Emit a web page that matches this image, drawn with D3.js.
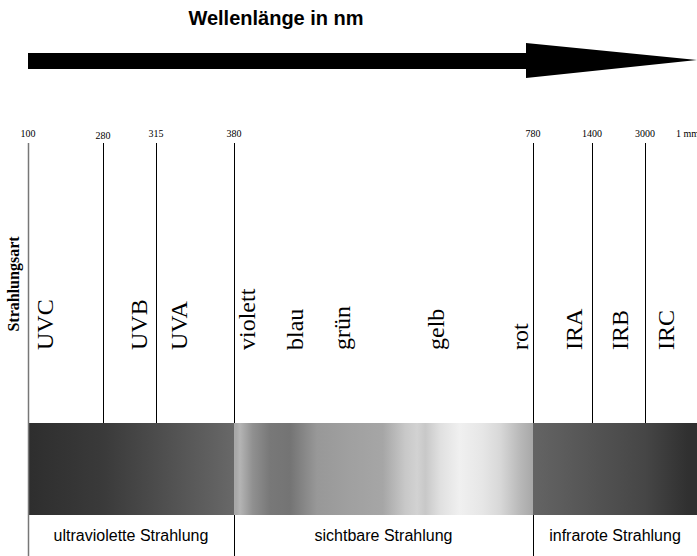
<!DOCTYPE html>
<meta charset="utf-8">
<script src="https://d3js.org/d3.v7.min.js"></script>
<style>
  body { margin: 0; background: #fff; }
</style>
<div id="chart"></div>
<script>
// wavelength boundaries (nm) and their tick labels
const bounds = [100, 280, 315, 380, 780, 1400, 3000, 1e6];
const boundLabels = ["100", "280", "315", "380", "780", "1400", "3000", "1 mm"];

// radiation types, placed at a wavelength (nm)
const kinds = ["UVC", "UVB", "UVA", "violett", "blau", "grün", "gelb", "rot", "IRA", "IRB", "IRC"];
const kindPos = [160, 309, 341, 408, 472, 535, 661, 773, 1295, 2487, 675000];

// main regions
const regions = ["ultraviolette Strahlung", "sichtbare Strahlung", "infrarote Strahlung"];
const regionFrom = [100, 380, 780];
const regionTo = [380, 780, 1e6];

// grey level of the spectrum band along the wavelength
const shadeNm = [100, 280, 315, 380, 380, 383, 388, 405, 428, 455, 491, 535, 579, 609, 625, 636, 656, 682, 713, 736, 763, 780, 780, 1400, 3000, 1e6];
const shadeGrey = [46, 58, 76, 104, 168, 168, 180, 144, 120, 116, 152, 160, 166, 200, 210, 200, 224, 240, 230, 216, 184, 168, 100, 84, 70, 48];

const width = 697, height = 556;

const svg = d3.select("#chart").append("svg")
  .attr("width", width)
  .attr("height", height);

// piecewise scale, segments are not proportional
const x = d3.scaleLinear()
  .domain(bounds)
  .range([28, 103, 156, 234, 533, 592, 645, 688]);

const yTop = 143, bandTop = 423, bandBot = 515, labelBase = 350;

// title + arrow
svg.append("text")
  .attr("x", 276).attr("y", 25)
  .attr("text-anchor", "middle")
  .style("font", "bold 20px 'Liberation Sans', Arial, sans-serif")
  .text("Wellenlänge in nm");

svg.append("path")
  .attr("d", d3.line()([[28, 53], [526, 53], [526, 43], [697, 60], [526, 78], [526, 69], [28, 69]]) + "Z")
  .attr("fill", "#000");

// gradient
const grad = svg.append("defs").append("linearGradient")
  .attr("id", "spec")
  .attr("gradientUnits", "userSpaceOnUse")
  .attr("x1", 29).attr("x2", width).attr("y1", 0).attr("y2", 0);

grad.selectAll("stop")
  .data(shadeNm)
  .join("stop")
    .attr("offset", d => (x(d) - 29) / (width - 29))
    .attr("stop-color", (d, i) => d3.rgb(shadeGrey[i], shadeGrey[i], shadeGrey[i]));

svg.append("rect")
  .attr("x", 29).attr("y", bandTop)
  .attr("width", width - 29).attr("height", bandBot - bandTop)
  .attr("fill", "url(#spec)");

// boundary lines (no line at 1 mm)
const lineNm = bounds.slice(0, -1);
svg.selectAll(".bline")
  .data(lineNm)
  .join("line")
    .attr("class", "bline")
    .attr("x1", d => Math.round(x(d)) + 0.5)
    .attr("x2", d => Math.round(x(d)) + 0.5)
    .attr("y1", yTop)
    .attr("y2", (d, i) => i == 0 ? height : bandTop)
    .attr("stroke", (d, i) => i == 0 ? "#777" : "#000")
    .attr("stroke-width", (d, i) => i == 0 ? 1.5 : 1);

// lines below the band at region borders
svg.selectAll(".rline")
  .data([380, 780])
  .join("line")
    .attr("class", "rline")
    .attr("x1", d => Math.round(x(d)) + 0.5)
    .attr("x2", d => Math.round(x(d)) + 0.5)
    .attr("y1", bandBot)
    .attr("y2", height)
    .attr("stroke", "#000");

// tick labels
svg.selectAll(".tlab")
  .data(bounds)
  .join("text")
    .attr("class", "tlab")
    .attr("x", (d, i) => i == bounds.length - 1 ? x(d) - 12 : x(d))
    .attr("y", (d, i) => i == 1 ? 139 : 137)
    .attr("text-anchor", (d, i) => i == bounds.length - 1 ? "start" : "middle")
    .style("font", "10px 'Liberation Serif', 'Times New Roman', serif")
    .text((d, i) => boundLabels[i]);

// y title
svg.append("text")
  .attr("transform", "translate(19,284) rotate(-90)")
  .attr("text-anchor", "middle")
  .style("font", "bold 16px 'Liberation Serif', 'Times New Roman', serif")
  .text("Strahlungsart");

// kind labels
svg.selectAll(".klab")
  .data(kinds)
  .join("text")
    .attr("class", "klab")
    .attr("transform", (d, i) => `translate(${x(kindPos[i])},${labelBase}) rotate(-90)`)
    .style("font", "24px 'Liberation Serif', 'Times New Roman', serif")
    .text(d => d);

// region labels
svg.selectAll(".rlab")
  .data(regions)
  .join("text")
    .attr("class", "rlab")
    .attr("x", (d, i) => (x(regionFrom[i]) + (i == regions.length - 1 ? width : x(regionTo[i]))) / 2)
    .attr("y", 541)
    .attr("text-anchor", "middle")
    .style("font", "16px 'Liberation Sans', Arial, sans-serif")
    .text(d => d);
</script>
